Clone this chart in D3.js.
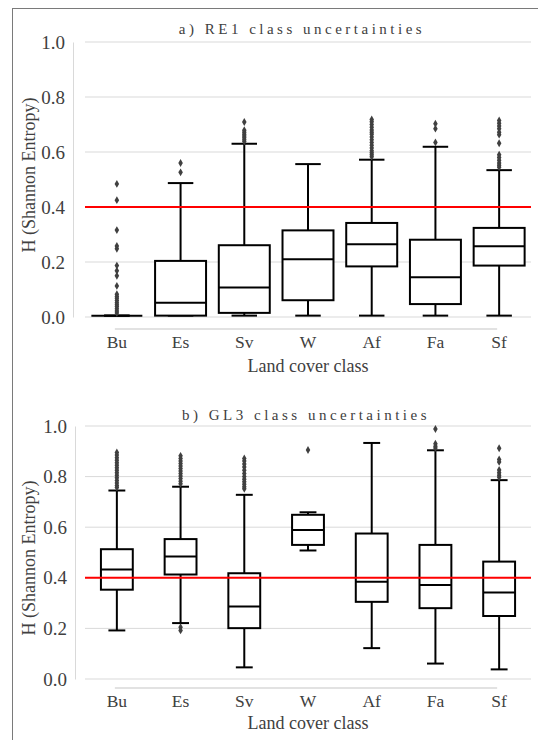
<!DOCTYPE html>
<html>
<head>
<meta charset="utf-8">
<script src="https://cdn.jsdelivr.net/npm/d3@7"></script>
<style>
  body { margin: 0; background: #fff; }
  svg { display: block; }
</style>
</head>
<body>
<svg id="chart"></svg>
<script>
// categories shared by both panels
const classes = ["Bu", "Es", "Sv", "W", "Af", "Fa", "Sf"];
const yTicks = [0, 0.2, 0.4, 0.6, 0.8, 1.0];
const threshold = 0.4;

// a) RE1 box stats
const re1Low    = [0.005, 0.005, 0.005, 0.005, 0.005, 0.005, 0.005];
const re1Q1     = [0.005, 0.005, 0.015, 0.061, 0.184, 0.047, 0.187];
const re1Median = [0.005, 0.052, 0.107, 0.21, 0.265, 0.145, 0.257];
const re1Q3     = [0.005, 0.204, 0.261, 0.315, 0.342, 0.281, 0.324];
const re1High   = [0.005, 0.487, 0.63, 0.556, 0.572, 0.619, 0.534];
const re1Outliers = [
  [0.484, 0.425, 0.316, 0.258, 0.248, 0.187, 0.168, 0.15, 0.113, 0.083, 0.075, 0.068, 0.06, 0.052, 0.045, 0.038, 0.03, 0.022, 0.015],
  [0.56, 0.526],
  [0.709, 0.679, 0.672, 0.665, 0.658, 0.652, 0.645, 0.638],
  [],
  [0.718, 0.71, 0.70, 0.69, 0.68, 0.672, 0.665, 0.655, 0.645, 0.635, 0.625, 0.615, 0.605, 0.597, 0.59, 0.583],
  [0.703, 0.685, 0.635],
  [0.715, 0.705, 0.695, 0.685, 0.672, 0.663, 0.632, 0.59, 0.58, 0.57, 0.56, 0.552, 0.545]
];

// b) GL3 box stats
const gl3Low    = [0.192, 0.221, 0.046, 0.508, 0.122, 0.061, 0.038];
const gl3Q1     = [0.353, 0.413, 0.201, 0.53, 0.305, 0.28, 0.249];
const gl3Median = [0.433, 0.484, 0.287, 0.589, 0.384, 0.372, 0.342];
const gl3Q3     = [0.513, 0.553, 0.418, 0.649, 0.575, 0.53, 0.464];
const gl3High   = [0.745, 0.76, 0.728, 0.659, 0.933, 0.904, 0.786];
const gl3Outliers = [
  [0.895, 0.885, 0.875, 0.865, 0.855, 0.845, 0.835, 0.825, 0.815, 0.805, 0.795, 0.785, 0.775, 0.765, 0.757],
  [0.882, 0.872, 0.862, 0.852, 0.842, 0.832, 0.822, 0.812, 0.802, 0.792, 0.782, 0.772, 0.205, 0.192],
  [0.872, 0.862, 0.85, 0.838, 0.825, 0.812, 0.8, 0.79, 0.78, 0.77, 0.76, 0.752],
  [0.905],
  [],
  [0.988, 0.93, 0.92, 0.913],
  [0.912, 0.868, 0.858, 0.826, 0.815, 0.805, 0.797]
];

const W = 538, H = 740;
const serif = "'Liberation Serif', 'Times New Roman', serif";

const svg = d3.select("#chart")
  .attr("width", W)
  .attr("height", H);

// outer frame (right and bottom edges fall outside the picture)
svg.append("rect")
  .attr("x", 12.5).attr("y", 8.5)
  .attr("width", 600).attr("height", 800)
  .attr("fill", "none")
  .attr("stroke", "#7a7a7a")
  .attr("stroke-width", 1);

function drawPanel(p) {
  const g = svg.append("g");

  const x = d3.scaleBand()
    .domain(classes)
    .range([85, 531]);
  const y = d3.scaleLinear()
    .domain([0, 1])
    .range([p.bottom, p.top]);
  const cx = c => x(c) + x.bandwidth() / 2;

  // gridlines
  g.selectAll(".grid")
    .data(yTicks)
    .join("line")
    .attr("x1", 85).attr("x2", 531)
    .attr("y1", d => y(d)).attr("y2", d => y(d))
    .attr("stroke", "#d9d9d9")
    .attr("stroke-width", 1);

  // y axis
  const ya = g.append("g")
    .attr("transform", `translate(${p.axisX},0)`)
    .call(d3.axisLeft(y).tickValues(yTicks).tickFormat(d3.format(".1f"))
      .tickSizeInner(0).tickSizeOuter(0).tickPadding(8));
  ya.select(".domain").attr("stroke", "#d9d9d9");
  ya.selectAll("text")
    .attr("font-family", serif)
    .attr("font-size", 19)
    .attr("fill", "#404040");

  // x axis
  const xa = g.append("g")
    .attr("transform", `translate(0,${p.xAxisY})`)
    .call(d3.axisBottom(x).tickSize(0).tickPadding(7));
  xa.select(".domain").remove();
  xa.selectAll("text")
    .attr("font-family", serif)
    .attr("font-size", 17.5)
    .attr("fill", "#404040");
  g.append("line")
    .attr("x1", cx(classes[0]) - 2).attr("x2", cx(classes[classes.length - 1]) - 2)
    .attr("y1", p.xAxisY).attr("y2", p.xAxisY)
    .attr("stroke", "#d9d9d9")
    .attr("stroke-width", 1.5);

  const boxW = x.bandwidth() * p.boxFrac;
  const capW = boxW * p.capFrac;

  const rows = classes.map((c, i) => ({
    c, lo: p.low[i], q1: p.q1[i], med: p.median[i], q3: p.q3[i], hi: p.high[i], out: p.outliers[i]
  }));

  const box = g.selectAll(".box")
    .data(rows)
    .join("g");

  // whiskers
  box.append("line")
    .attr("x1", d => cx(d.c)).attr("x2", d => cx(d.c))
    .attr("y1", d => y(d.hi)).attr("y2", d => y(d.q3))
    .attr("stroke", "#000").attr("stroke-width", 2);
  box.append("line")
    .attr("x1", d => cx(d.c)).attr("x2", d => cx(d.c))
    .attr("y1", d => y(d.q1)).attr("y2", d => y(d.lo))
    .attr("stroke", "#000").attr("stroke-width", 2);
  box.append("line")
    .attr("x1", d => cx(d.c) - capW / 2).attr("x2", d => cx(d.c) + capW / 2)
    .attr("y1", d => y(d.hi)).attr("y2", d => y(d.hi))
    .attr("stroke", "#000").attr("stroke-width", 2);
  box.append("line")
    .attr("x1", d => cx(d.c) - capW / 2).attr("x2", d => cx(d.c) + capW / 2)
    .attr("y1", d => y(d.lo)).attr("y2", d => y(d.lo))
    .attr("stroke", "#000").attr("stroke-width", 2);

  // box + median
  box.append("rect")
    .attr("x", d => cx(d.c) - boxW / 2)
    .attr("y", d => y(d.q3))
    .attr("width", boxW)
    .attr("height", d => y(d.q1) - y(d.q3))
    .attr("fill", "#fff")
    .attr("stroke", "#000")
    .attr("stroke-width", 2);
  box.append("line")
    .attr("x1", d => cx(d.c) - boxW / 2).attr("x2", d => cx(d.c) + boxW / 2)
    .attr("y1", d => y(d.med)).attr("y2", d => y(d.med))
    .attr("stroke", "#000").attr("stroke-width", 2);

  // outliers
  const diamond = d3.symbol().type(d3.symbolDiamond).size(18);
  box.selectAll(".out")
    .data(d => d.out.map(v => ({ c: d.c, v })))
    .join("path")
    .attr("d", diamond)
    .attr("transform", d => `translate(${cx(d.c)},${y(d.v)})`)
    .attr("fill", "#404040");

  // threshold line
  g.append("line")
    .attr("x1", 85).attr("x2", 531)
    .attr("y1", y(threshold)).attr("y2", y(threshold))
    .attr("stroke", "#ff0000")
    .attr("stroke-width", 2);

  // titles
  g.append("text")
    .attr("x", p.titleX).attr("y", p.titleY)
    .attr("text-anchor", "middle")
    .attr("font-family", serif)
    .attr("font-size", 15)
    .attr("letter-spacing", 3.5)
    .attr("fill", "#404040")
    .text(p.title);

  g.append("text")
    .attr("x", 308).attr("y", p.xTitleY)
    .attr("text-anchor", "middle")
    .attr("font-family", serif)
    .attr("font-size", 18)
    .attr("fill", "#404040")
    .text("Land cover class");

  g.append("text")
    .attr("transform", `translate(34.5,${p.yTitleMid}) rotate(-90)`)
    .attr("text-anchor", "middle")
    .attr("font-family", serif)
    .attr("font-size", 18)
    .attr("fill", "#404040")
    .text("H (Shannon Entropy)");
}

drawPanel({
  title: "a) RE1 class uncertainties",
  top: 42, bottom: 317, axisX: 73, xAxisY: 329,
  titleX: 302, titleY: 34, xTitleY: 372, yTitleMid: 175,
  boxFrac: 0.8, capFrac: 0.5,
  low: re1Low, q1: re1Q1, median: re1Median, q3: re1Q3, high: re1High, outliers: re1Outliers
});

drawPanel({
  title: "b) GL3 class uncertainties",
  top: 426, bottom: 679, axisX: 75, xAxisY: 688,
  titleX: 306, titleY: 420, xTitleY: 729, yTitleMid: 558,
  boxFrac: 0.5, capFrac: 0.53,
  low: gl3Low, q1: gl3Q1, median: gl3Median, q3: gl3Q3, high: gl3High, outliers: gl3Outliers
});
</script>
</body>
</html>
